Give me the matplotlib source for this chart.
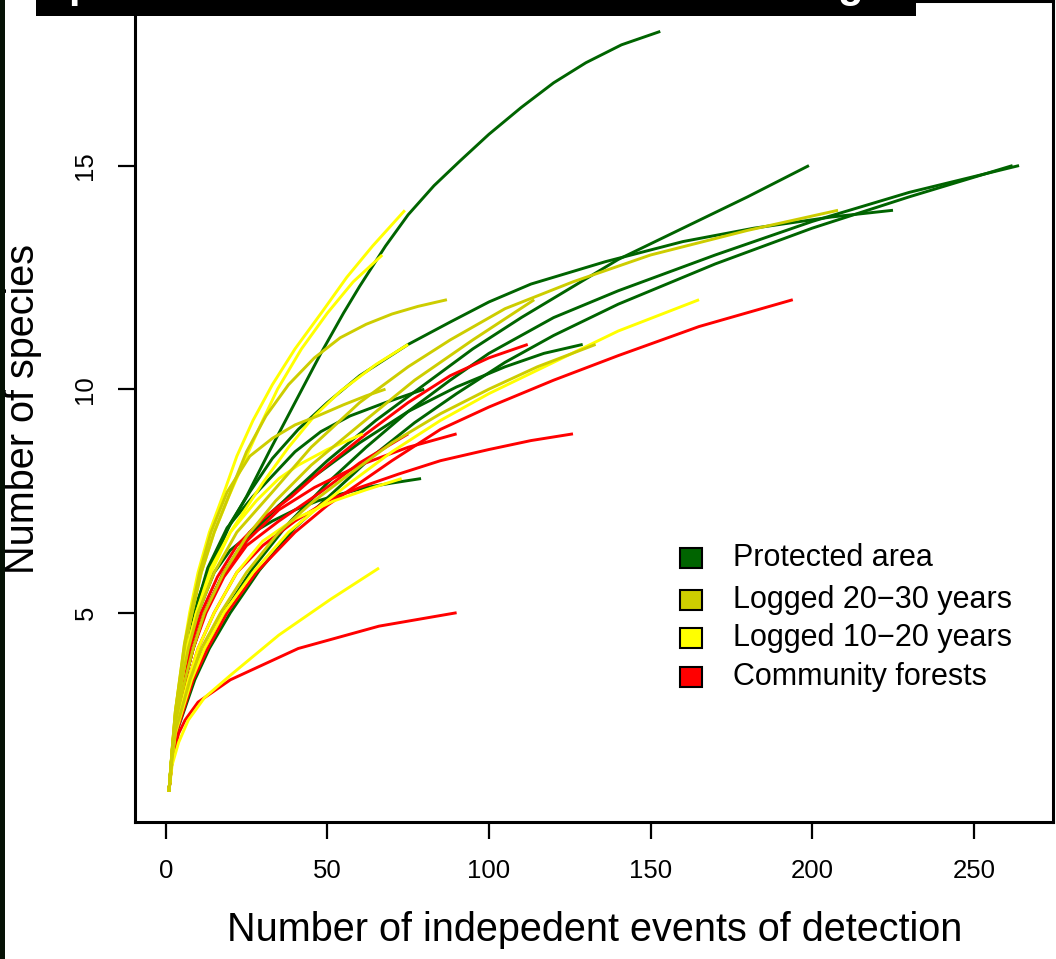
import matplotlib
matplotlib.use("Agg")
import matplotlib.pyplot as plt
from matplotlib.patches import Rectangle

# ---------------- data ----------------
group_names = ["Protected area", "Logged 20\u221230 years", "Logged 10\u221220 years", "Community forests"]
group_colors = ["#006400", "#CDCD00", "#FFFF00", "#FF0000"]

# Protected area curves (x = detection events, y = species)
protected_x = [
    [1, 2, 3, 5, 7, 10, 14, 19, 25, 32, 40, 48, 55, 60, 68, 75, 83, 91, 100, 110, 120, 130, 141, 153],
    [1, 2, 3, 6, 8.5, 12, 18, 27, 38, 50, 65, 80, 95, 110, 125, 140, 160, 180, 199],
    [1, 2, 3, 5, 7, 10, 14, 20, 26, 33, 41, 50, 60, 75, 88, 100, 113, 136, 160, 182, 206, 225],
    [1, 2, 3, 8, 12, 18, 27, 38, 50, 62, 75, 88, 100, 120, 140, 170, 200, 230, 264],
    [1, 2, 3, 9, 13.5, 20, 29, 40, 52, 64, 77, 90, 105, 120, 140, 170, 200, 230, 262],
    [1, 2, 3, 6, 8.5, 12, 18, 26, 35, 45, 60, 75, 90, 105, 117, 129],
    [1, 2, 3, 5.2, 7.5, 10, 15, 20, 26, 33, 40, 47, 54, 62, 70, 79],
    [1, 2, 3, 4.8, 6.6, 9, 13, 19, 27, 40, 48, 57, 68, 80],
]
protected_y = [
    [1, 1.9, 2.65, 3.6, 4.4, 5.3, 6.1, 6.85, 7.6, 8.6, 9.7, 10.8, 11.7, 12.3, 13.2, 13.9, 14.55, 15.1, 15.7, 16.3, 16.85, 17.3, 17.7, 18.0],
    [1, 1.85, 2.5, 3.5, 4.2, 5.0, 5.9, 6.8, 7.6, 8.4, 9.3, 10.1, 10.9, 11.6, 12.25, 12.9, 13.6, 14.3, 15.0],
    [1, 1.9, 2.65, 3.5, 4.3, 5.1, 6.0, 7.0, 7.7, 8.45, 9.1, 9.7, 10.3, 11.0, 11.5, 11.95, 12.35, 12.85, 13.3, 13.6, 13.85, 14.0],
    [1, 1.75, 2.3, 3.5, 4.2, 5.0, 6.0, 7.0, 7.9, 8.7, 9.5, 10.2, 10.8, 11.6, 12.2, 13.0, 13.75, 14.4, 15.0],
    [1, 1.7, 2.25, 3.5, 4.2, 5.0, 5.95, 6.9, 7.7, 8.5, 9.25, 9.9, 10.6, 11.2, 11.9, 12.8, 13.6, 14.3, 15.0],
    [1, 1.85, 2.55, 3.5, 4.2, 5.0, 5.9, 6.8, 7.4, 8.0, 8.8, 9.5, 10.05, 10.5, 10.8, 11.0],
    [1, 1.85, 2.6, 3.5, 4.3, 5.0, 5.9, 6.4, 6.75, 7.05, 7.3, 7.5, 7.65, 7.8, 7.9, 8.0],
    [1, 1.9, 2.7, 3.5, 4.2, 5.0, 6.0, 6.9, 7.6, 8.6, 9.05, 9.4, 9.7, 10.0],
]

# Logged 20-30 years curves
logged2030_x = [
    [1, 2, 3, 5, 7, 10, 15, 22, 33, 45, 60, 75, 88, 105, 126, 150, 180, 208],
    [1, 2, 3, 4.4, 6, 8.2, 11, 15, 20, 25, 31, 38, 46, 54, 62, 70, 78, 87],
    [1, 2, 3, 6, 8.5, 12, 18, 25, 34, 45, 60, 77, 95, 114],
    [1, 2, 3, 7.5, 11, 17, 25, 35, 45, 55, 70, 85, 100, 115, 133],
    [1, 2, 3, 4.3, 5.8, 7.8, 10.5, 14, 19, 26, 33, 40, 47, 55, 62, 68],
]
logged2030_y = [
    [1, 1.9, 2.6, 3.5, 4.2, 5.0, 5.9, 6.8, 7.7, 8.7, 9.7, 10.5, 11.1, 11.8, 12.4, 13.0, 13.55, 14.0],
    [1, 1.95, 2.8, 3.5, 4.3, 5.0, 5.9, 6.8, 7.7, 8.6, 9.4, 10.1, 10.7, 11.15, 11.45, 11.68, 11.85, 12.0],
    [1, 1.85, 2.55, 3.5, 4.2, 5.0, 5.9, 6.7, 7.5, 8.3, 9.2, 10.2, 11.1, 12.0],
    [1, 1.75, 2.35, 3.5, 4.2, 5.0, 5.9, 6.8, 7.45, 8.0, 8.8, 9.45, 10.0, 10.5, 11.0],
    [1, 1.95, 2.8, 3.5, 4.3, 5.0, 5.9, 6.8, 7.7, 8.5, 8.9, 9.2, 9.4, 9.65, 9.85, 10.0],
]

# Logged 10-20 years curves
logged1020_x = [
    [1, 2, 3, 4.3, 5.8, 7.4, 10, 13.5, 17.6, 22, 27, 33, 40, 48.6, 56, 64, 74],
    [1, 2, 3, 4.5, 6, 8, 11, 15, 19.5, 25, 30, 34.6, 42, 50, 58, 67],
    [1, 2, 3, 8, 12, 18, 27, 38, 48, 57, 70, 85, 100, 120, 140, 165],
    [1, 2, 4, 7, 12, 20, 35, 51, 66],
    [1, 2, 3, 5, 7, 9.5, 14, 20, 30, 38, 46, 54, 65, 75],
    [1, 2, 3, 5, 7, 9.5, 14, 20, 28, 35, 41, 50, 61],
    [1, 2, 3, 7, 10, 15, 22, 30, 40, 52, 62, 73],
]
logged1020_y = [
    [1, 1.95, 2.8, 3.5, 4.3, 5.0, 5.9, 6.8, 7.6, 8.5, 9.3, 10.1, 10.9, 11.75, 12.5, 13.2, 14.0],
    [1, 1.95, 2.75, 3.5, 4.2, 5.0, 5.9, 6.8, 7.6, 8.5, 9.3, 10.0, 10.9, 11.7, 12.4, 13.0],
    [1, 1.75, 2.3, 3.5, 4.2, 5.0, 5.9, 6.8, 7.4, 7.9, 8.6, 9.3, 9.9, 10.6, 11.3, 12.0],
    [1, 1.6, 2.1, 2.6, 3.1, 3.6, 4.5, 5.3, 6.0],
    [1, 1.9, 2.7, 3.5, 4.3, 5.0, 5.9, 6.8, 7.9, 8.7, 9.4, 9.95, 10.55, 11.0],
    [1, 1.9, 2.7, 3.5, 4.3, 5.0, 6.0, 6.8, 7.5, 8.0, 8.3, 8.65, 9.0],
    [1, 1.8, 2.4, 3.5, 4.2, 5.0, 5.9, 6.6, 7.1, 7.5, 7.75, 8.0],
]

# Community forests curves
community_x = [
    [1, 2, 3, 8.5, 13, 19, 28, 40, 50, 58, 70, 85, 100, 120, 140, 165, 194],
    [1, 2, 3, 5.5, 7.5, 11, 16, 22, 30, 39, 50, 62, 75, 88, 100, 112],
    [1, 2, 3, 7, 10, 15, 22, 30, 40, 50, 60, 72, 85, 100, 113, 126],
    [1, 2, 3, 6, 8.5, 12, 18, 25, 35, 46, 60, 75, 90],
    [1, 2, 3, 6, 8.5, 12.5, 18, 25, 35, 48, 60, 75],
    [1, 2, 4, 6, 10, 20, 41, 66, 90],
]
community_y = [
    [1, 1.7, 2.25, 3.5, 4.2, 5.0, 5.9, 6.8, 7.4, 7.8, 8.4, 9.1, 9.6, 10.2, 10.75, 11.4, 12.0],
    [1, 1.85, 2.55, 3.5, 4.2, 5.0, 5.8, 6.5, 7.1, 7.6, 8.3, 9.0, 9.7, 10.3, 10.7, 11.0],
    [1, 1.8, 2.4, 3.5, 4.2, 5.0, 5.9, 6.5, 7.05, 7.5, 7.8, 8.1, 8.4, 8.65, 8.85, 9.0],
    [1, 1.85, 2.5, 3.5, 4.2, 5.0, 5.9, 6.6, 7.3, 7.8, 8.3, 8.7, 9.0],
    [1, 1.85, 2.5, 3.5, 4.2, 5.0, 5.8, 6.5, 7.05, 7.7, 8.35, 9.0],
    [1, 1.7, 2.3, 2.6, 3.0, 3.5, 4.2, 4.7, 5.0],
]

x_ticks = [0, 50, 100, 150, 200, 250]
y_ticks = [5, 10, 15]
x_label = "Number of indepedent events of detection"
y_label = "Number of species"

# ---------------- figure ----------------
plt.rcParams["font.family"] = ["Liberation Sans", "DejaVu Sans"]
W, H = 1056, 959
fig = plt.figure(figsize=(W / 100, H / 100), dpi=100)
fig.patch.set_facecolor("white")

ax = fig.add_axes([135 / W, 1 - 822 / H, (1053 - 135) / W, (822 - 1) / H])
ax.set_xlim(-9.5, 274.5)
ax.set_ylim(0.32, 18.68)

groups = [
    (protected_x, protected_y, group_colors[0]),
    (community_x, community_y, group_colors[3]),
    (logged1020_x, logged1020_y, group_colors[2]),
    (logged2030_x, logged2030_y, group_colors[1]),
]
for xs_list, ys_list, col in groups:
    for xs, ys in zip(xs_list, ys_list):
        ax.plot(xs, ys, color=col, lw=2.1, solid_capstyle="butt", solid_joinstyle="round")

for s in ax.spines.values():
    s.set_linewidth(2.2)
    s.set_color("black")

ax.set_xticks(x_ticks)
ax.set_yticks(y_ticks)
ax.tick_params(axis="both", length=12, width=1.6, labelsize=18.5, color="black")
ax.tick_params(axis="x", pad=15)
ax.tick_params(axis="y", pad=15)
for lab in ax.get_yticklabels():
    lab.set_rotation(90)
    lab.set_va("center")

fig.text(595 / W, 1 - 930 / H, x_label, ha="center", va="center", fontsize=28.5)
fig.text(23 / W, 1 - 409 / H, y_label, ha="center", va="center", rotation=90, fontsize=28.5)

# legend
leg_y = [558, 600, 638, 677]
for i, (name, col) in enumerate(zip(group_names, group_colors)):
    yc = leg_y[i]
    fig.patches.append(Rectangle((680 / W, 1 - (yc + 10) / H), 22 / W, 20 / H,
                                 transform=fig.transFigure, facecolor=col,
                                 edgecolor="black", lw=1.5, zorder=5))
    fig.text(733 / W, 1 - yc / H, name, ha="left", va="center", fontsize=22)

# background fragments (photo strip on the left, title banner at the top)
fig.patches.append(Rectangle((0, 0), 5 / W, 1, transform=fig.transFigure,
                             facecolor="#061206", edgecolor="none", zorder=10))
fig.patches.append(Rectangle((36 / W, 1 - 16 / H), (916 - 36) / W, 16 / H,
                             transform=fig.transFigure, facecolor="black",
                             edgecolor="none", zorder=10))
fig.text(68 / W, 1 + 3 / H, "p", color="white", fontsize=30, fontweight="bold",
         ha="left", va="baseline", zorder=11)
fig.text(850 / W, 1 + 3 / H, "g", color="white", fontsize=30, fontweight="bold",
         ha="center", va="baseline", zorder=11)

fig.savefig("out.png", dpi=100)
